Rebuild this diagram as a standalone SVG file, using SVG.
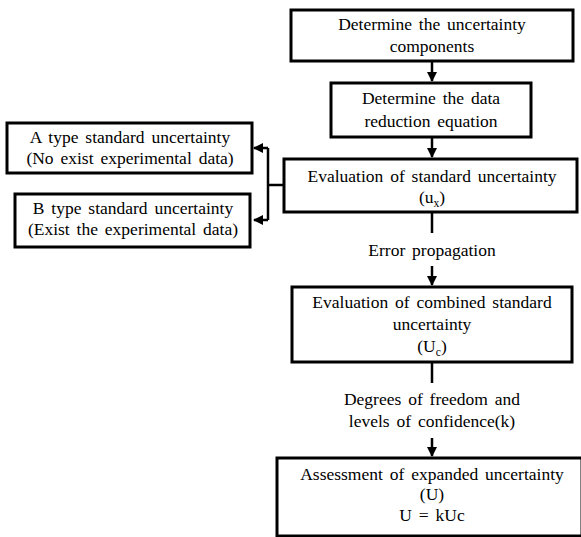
<svg xmlns="http://www.w3.org/2000/svg" width="581" height="537" viewBox="0 0 581 537">
<defs>
<style>
.box{fill:#fff;stroke:#000;stroke-width:3}
.t{font-family:"Liberation Serif","Times New Roman",serif;font-size:17.5px;fill:#000;text-anchor:middle;word-spacing:2.5px}
.ln{stroke:#000;stroke-width:2.5;fill:none}
</style>
<marker id="ah" viewBox="0 0 10 10" refX="9" refY="5" markerWidth="4" markerHeight="4" orient="auto" markerUnits="strokeWidth">
<path d="M0,0 L10,5 L0,10 z" fill="#000"/>
</marker>
</defs>
<rect width="581" height="537" fill="#fff"/>
<g id="connectors">
<line class="ln" x1="432" y1="61" x2="432" y2="81" marker-end="url(#ah)"/>
<line class="ln" x1="432" y1="137" x2="432" y2="157" marker-end="url(#ah)"/>
<line class="ln" x1="432" y1="212" x2="432" y2="233"/>
<line class="ln" x1="432" y1="266" x2="432" y2="285" marker-end="url(#ah)"/>
<line class="ln" x1="432" y1="362" x2="432" y2="383"/>
<line class="ln" x1="432" y1="438" x2="432" y2="456" marker-end="url(#ah)"/>
<polyline class="ln" points="284,185 268,185"/>
<polyline class="ln" points="268,148 268,220"/>
<line class="ln" x1="268" y1="148" x2="254" y2="148" marker-end="url(#ah)"/>
<line class="ln" x1="268" y1="220" x2="254" y2="220" marker-end="url(#ah)"/>
</g>
<g id="n1">
<rect class="box" x="291" y="10" width="282" height="51"/>
<text class="t" x="432" y="30">Determine the uncertainty</text>
<text class="t" x="432" y="52">components</text>
</g>
<g id="n2">
<rect class="box" x="331" y="83" width="200" height="54"/>
<text class="t" x="431" y="104">Determine the data</text>
<text class="t" x="431" y="127">reduction equation</text>
</g>
<g id="n3">
<rect class="box" x="284" y="159" width="293" height="53"/>
<text class="t" x="432" y="182">Evaluation of standard uncertainty</text>
<text class="t" x="432" y="203">(u<tspan font-size="11.5" dy="4">x</tspan><tspan dy="-4">)</tspan></text>
</g>
<g id="nA">
<rect class="box" x="7" y="123" width="245" height="50"/>
<text class="t" x="130" y="143">A type standard uncertainty</text>
<text class="t" x="130" y="164">(No exist experimental data)</text>
</g>
<g id="nB">
<rect class="box" x="15" y="194" width="235" height="53"/>
<text class="t" x="133" y="214">B type standard uncertainty</text>
<text class="t" x="133" y="235">(Exist the experimental data)</text>
</g>
<g id="l1">
<text class="t" x="432" y="256">Error propagation</text>
</g>
<g id="n4">
<rect class="box" x="292" y="287" width="280" height="75"/>
<text class="t" x="432" y="308">Evaluation of combined standard</text>
<text class="t" x="432" y="330">uncertainty</text>
<text class="t" x="432" y="352">(U<tspan font-size="11.5" dy="4">c</tspan><tspan dy="-4">)</tspan></text>
</g>
<g id="l2">
<text class="t" x="432" y="405">Degrees of freedom and</text>
<text class="t" x="432" y="427">levels of confidence(k)</text>
</g>
<g id="n5">
<rect class="box" x="277" y="458" width="305" height="78"/>
<text class="t" x="432" y="480">Assessment of expanded uncertainty</text>
<text class="t" x="432" y="500">(U)</text>
<text class="t" x="432" y="521">U = kUc</text>
</g>
</svg>
